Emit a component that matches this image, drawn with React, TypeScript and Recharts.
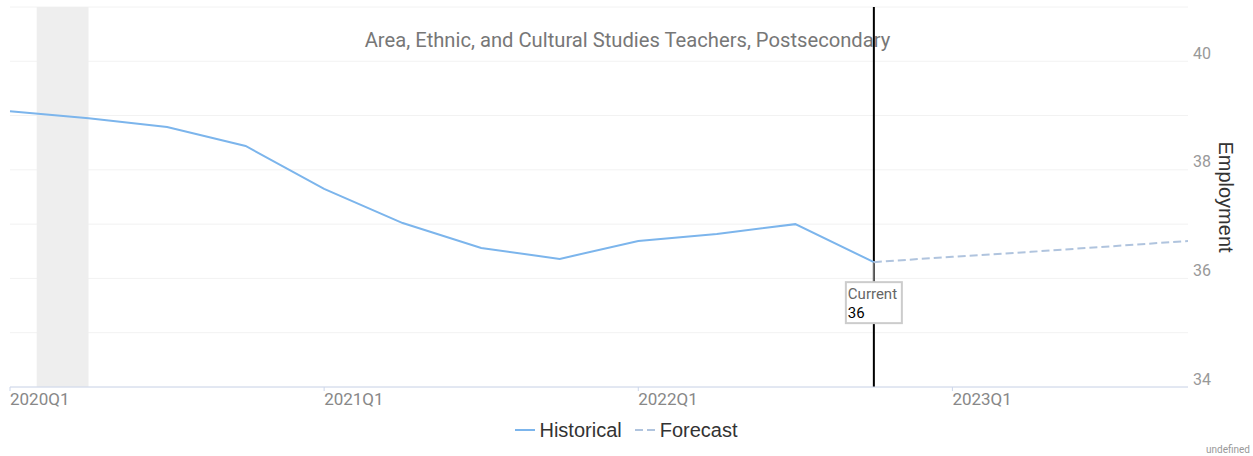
import React from 'react';
import {
  LineChart,
  Line,
  XAxis,
  YAxis,
  CartesianGrid,
  ReferenceArea,
  ReferenceLine,
  ReferenceDot,
  Legend,
} from 'recharts';

const quarters = [
  '2020Q1', '2020Q2', '2020Q3', '2020Q4',
  '2021Q1', '2021Q2', '2021Q3', '2021Q4',
  '2022Q1', '2022Q2', '2022Q3', '2022Q4',
  '2023Q1', '2023Q2', '2023Q3', '2023Q4',
];
const historical = [
  39.08, 38.95, 38.79, 38.44,
  37.65, 37.02, 36.56, 36.36,
  36.69, 36.82, 37.0, 36.3,
  null, null, null, null,
];
const forecast = [
  null, null, null, null,
  null, null, null, null,
  null, null, null, 36.3,
  36.4, 36.49, 36.59, 36.69,
];
const yTicks = [34, 35, 36, 37, 38, 39, 40, 41];
const xTickIndices = [0, 4, 8, 12];
const recessionStart = 0.34;
const recessionEnd = 1.0;
const currentIndex = 11;
const currentValue = 36.3;
const currentLabel = '36';

const FONT = 'Roboto, "Noto Sans", sans-serif';
const SANS = '"Liberation Sans", Arial, sans-serif';

const data = quarters.map((q, i) => ({
  i,
  q,
  historical: historical[i],
  forecast: forecast[i],
}));

const XTick = (props: any) => {
  const { x, y, payload } = props;
  return (
    <text
      x={x}
      y={y}
      dy="0.71em"
      textAnchor="start"
      fontFamily={FONT}
      fontSize={17}
      fill="#888"
    >
      {quarters[payload.value]}
    </text>
  );
};

const YTick = (props: any) => {
  const { x, y, payload } = props;
  if (payload.value % 2 !== 0) return <g />;
  return (
    <text
      x={x}
      y={y - 8}
      dy="0.35em"
      textAnchor="start"
      fontFamily={FONT}
      fontSize={16}
      fill="#999"
    >
      {payload.value}
    </text>
  );
};

const CurrentShape = (props: any) => {
  const { cx, cy } = props;
  return (
    <g>
      <line x1={cx} y1={cy} x2={cx} y2={cy + 20} stroke="#aaa" strokeWidth={1} />
      <rect
        x={cx - 28}
        y={cy + 20}
        width={56}
        height={41}
        fill="#fff"
        stroke="#ccc"
        strokeWidth={2}
      />
      <text x={cx - 26} y={cy + 37} fontFamily={FONT} fontSize={15} fill="#666">
        Current
      </text>
      <text x={cx - 26} y={cy + 56} fontFamily={FONT} fontSize={15} fill="#000">
        {currentLabel}
      </text>
    </g>
  );
};

const LegendContent = () => (
  <div
    style={{
      display: 'flex',
      justifyContent: 'center',
      alignItems: 'center',
      fontFamily: SANS,
      fontSize: 20,
      color: '#333',
      height: 24,
    }}
  >
    <svg width={20} height={4} style={{ display: 'block' }}>
      <line x1={0} y1={2} x2={20} y2={2} stroke="#7cb5ec" strokeWidth={2} />
    </svg>
    <span style={{ marginLeft: 4 }}>Historical</span>
    <svg width={20} height={4} style={{ display: 'block', marginLeft: 13 }}>
      <line x1={0} y1={2} x2={20} y2={2} stroke="#b0c4de" strokeWidth={2} strokeDasharray="8 4" />
    </svg>
    <span style={{ marginLeft: 5 }}>Forecast</span>
  </div>
);

export default function App() {
  return (
    <div style={{ position: 'absolute', left: 0, top: 0, width: 1253, height: 456, fontFamily: FONT }}>
      <div
        style={{
          position: 'absolute',
          left: 0,
          top: 28,
          width: 1253,
          textAlign: 'center',
          fontSize: 20.2,
          color: '#777',
          lineHeight: '24px',
          pointerEvents: 'none',
        }}
      >
        <span style={{ position: 'relative', left: 1 }}>
          Area, Ethnic, and Cultural Studies Teachers, Postsecondary
        </span>
      </div>
      <LineChart
        width={1253}
        height={456}
        data={data}
        margin={{ top: 7, left: 10, right: 5, bottom: 39 }}
      >
        <CartesianGrid horizontal vertical={false} stroke="#f2f2f2" />
        <ReferenceArea
          x1={recessionStart}
          x2={recessionEnd}
          y1={34}
          y2={41}
          fill="#eeeeee"
          fillOpacity={1}
          stroke="none"
        />
        <XAxis
          dataKey="i"
          type="number"
          domain={[0, 15]}
          ticks={xTickIndices}
          tick={<XTick />}
          tickSize={4}
          tickMargin={2}
          stroke="#ccd6eb"
          axisLine={{ stroke: '#ccd6eb' }}
          tickLine={{ stroke: '#ccd6eb' }}
          height={30}
          interval={0}
        />
        <YAxis
          orientation="right"
          type="number"
          domain={[34, 41]}
          ticks={yTicks}
          tick={<YTick />}
          axisLine={false}
          tickLine={false}
          tickSize={0}
          tickMargin={5}
          width={60}
          interval={0}
        />
        <ReferenceLine x={currentIndex} stroke="#000" strokeWidth={2} />
        <Line
          dataKey="historical"
          stroke="#7cb5ec"
          strokeWidth={2}
          dot={false}
          activeDot={false}
          isAnimationActive={false}
          connectNulls={false}
        />
        <Line
          dataKey="forecast"
          stroke="#b0c4de"
          strokeWidth={2}
          strokeDasharray="8 4"
          dot={false}
          activeDot={false}
          isAnimationActive={false}
          connectNulls={false}
        />
        <ReferenceDot x={currentIndex} y={currentValue} r={0} shape={<CurrentShape />} />
        <Legend
          layout="horizontal"
          verticalAlign="middle"
          align="center"
          wrapperStyle={{ top: 418, left: 0, width: 1253 }}
          content={<LegendContent />}
        />
      </LineChart>
      <div
        style={{
          position: 'absolute',
          left: 1226,
          top: 197,
          transform: 'translate(-50%, -50%) rotate(90deg)',
          fontFamily: SANS,
          fontSize: 20,
          color: '#333',
          whiteSpace: 'nowrap',
          lineHeight: '24px',
        }}
      >
        Employment
      </div>
      <div
        style={{
          position: 'absolute',
          right: 3,
          top: 444,
          fontSize: 10,
          color: '#999',
          lineHeight: '12px',
        }}
      >
        undefined
      </div>
    </div>
  );
}
